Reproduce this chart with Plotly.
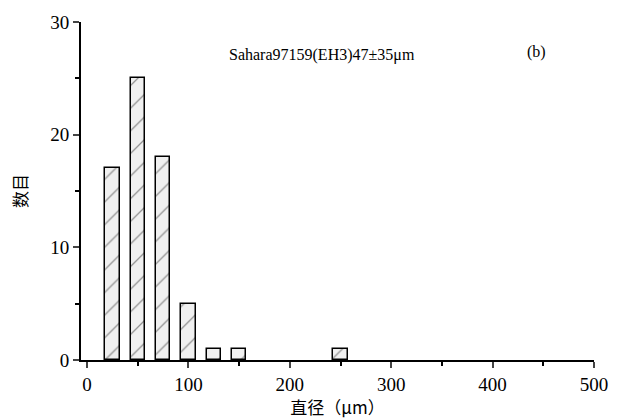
import plotly.graph_objects as go

bin_centers = [25, 50, 75, 100, 125, 150, 250]
counts = [17, 25, 18, 5, 1, 1, 1]
x_ticks = [0, 100, 200, 300, 400, 500]
y_ticks = [0, 10, 20, 30]
title_text = "Sahara97159(EH3)47±35μm"
panel_label = "(b)"
x_title = "直径（μm）"
y_title = "数目"

serif = "Liberation Serif, Times New Roman, serif"

fig = go.Figure()
fig.add_trace(go.Bar(
    x=bin_centers, y=counts, width=14,
    marker=dict(
        color="#f0f0f0",
        line=dict(color="black", width=1.5),
        pattern=dict(shape="/", fgcolor="#333333", bgcolor="#f0f0f0", size=16, solidity=0.08),
    ),
    showlegend=False,
))

fig.update_layout(
    width=620, height=419,
    margin=dict(l=81, r=22, t=21, b=53),
    plot_bgcolor="white", paper_bgcolor="white",
    font=dict(family=serif, color="black", size=16),
    bargap=0,
)
fig.update_xaxes(
    range=[-6, 500], tickvals=x_ticks, ticks="outside", ticklen=6, tickwidth=1.5,
    showline=True, linecolor="black", linewidth=2, showgrid=False, zeroline=False,
    tickfont=dict(family=serif, size=19),
    minor=dict(ticks="outside", ticklen=4, tickvals=[50, 150, 250, 350, 450], tickcolor="black"),
    title=dict(text=x_title, font=dict(family="Noto Sans CJK SC", size=17), standoff=0),
)
fig.update_yaxes(
    range=[0, 30], tickvals=y_ticks, ticks="outside", ticklen=6, tickwidth=1.5,
    showline=True, linecolor="black", linewidth=2, showgrid=False, zeroline=False,
    tickfont=dict(family=serif, size=19),
    minor=dict(ticks="outside", ticklen=4, tickvals=[5, 15, 25], tickcolor="black"),
    title=dict(text=y_title, font=dict(family="Noto Sans CJK SC", size=17), standoff=18),
)
fig.add_annotation(x=0.47, y=0.935, xref="paper", yref="paper", text=title_text,
                   showarrow=False, font=dict(family=serif, size=16))
fig.add_annotation(x=0.91, y=0.945, xref="paper", yref="paper", text=panel_label,
                   showarrow=False, font=dict(family=serif, size=16))

fig.write_html("out.html")
